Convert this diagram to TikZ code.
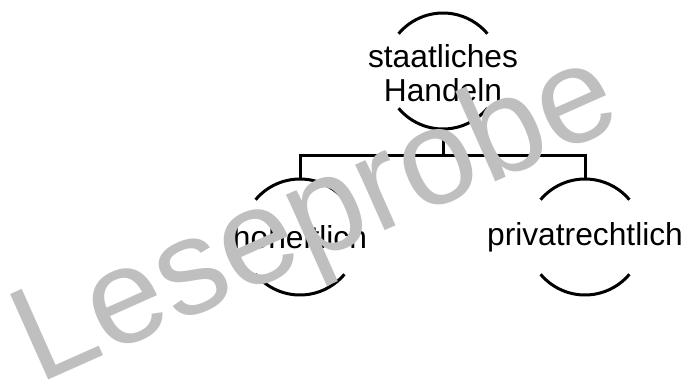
\documentclass[tikz,border=0pt]{standalone}
\usepackage{fontspec}
\setmainfont{Liberation Sans}
\usetikzlibrary{positioning}
\definecolor{wmgrey}{RGB}{191,191,191}
\tikzset{
  hub/.style={circle, minimum size=87pt, inner sep=0pt, outer sep=0pt},
  lbl/.style={font=\fontsize{23.8}{25.5}\selectfont, align=center, inner sep=0pt},
  rim/.style={line width=2.25pt},
  stamp/.style={font=\fontsize{102}{102}\selectfont, text=wmgrey, inner sep=0pt, rotate=24, anchor=base west}
}
\begin{document}
\begin{tikzpicture}[x=0.75pt, y=0.75pt]
\useasboundingbox (0,0) rectangle (685,387);
\node[hub] (staat) at (443,316) {};
\node[hub] (hoheit) at (300,150) {};
\node[hub] (privat) at (585,150) {};
\node[lbl] (staattext) at ([yshift=-1.9pt]staat.center) {staatliches\\Handeln};
\node[lbl] (hoheittext) at (hoheit.center) {hoheitlich};
\node[lbl] (privattext) at (privat.center) {privatrechtlich};

\draw[rim] (staat.140) arc[start angle=140, end angle=40, radius=43.5pt];
\draw[rim] (staat.220) arc[start angle=220, end angle=320, radius=43.5pt];
\draw[rim] (hoheit.140) arc[start angle=140, end angle=40, radius=43.5pt];
\draw[rim] (hoheit.220) arc[start angle=220, end angle=320, radius=43.5pt];
\draw[rim] (privat.140) arc[start angle=140, end angle=40, radius=43.5pt];
\draw[rim] (privat.220) arc[start angle=220, end angle=320, radius=43.5pt];

\coordinate (bar) at (443,232);
\draw[rim] (staat.south) -- (bar);
\draw[rim] (hoheit.north) |- (bar) -| (privat.north);

\node[stamp] (leseprobe) at (38,2) {Leseprobe};
\end{tikzpicture}
\end{document}
